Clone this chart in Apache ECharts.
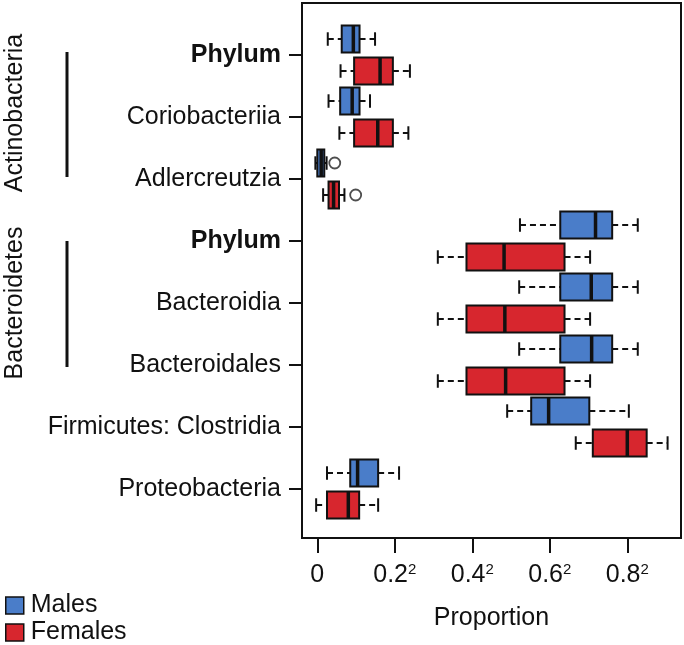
<!DOCTYPE html>
<html>
<head>
<meta charset="utf-8">
<script src="https://cdn.jsdelivr.net/npm/echarts@6/dist/echarts.min.js"></script>
<style>
  html, body { margin: 0; padding: 0; background: #fff; }
  #chart { width: 684px; height: 645px; }
</style>
</head>
<body>
<div id="chart"></div>
<script>
// rows, top to bottom
const categories = ['Phylum', 'Coriobacteriia', 'Adlercreutzia', 'Phylum', 'Bacteroidia', 'Bacteroidales', 'Firmicutes: Clostridia', 'Proteobacteria']
const boldRows = [0, 3]

// box stats on the sqrt scale: [low whisker, q1, median, q3, high whisker]
const maleStats = [
	[0.027, 0.063, 0.093, 0.109, 0.149],
	[0.029, 0.059, 0.090, 0.109, 0.136],
	[-0.005, 0.0, 0.010, 0.018, 0.024],
	[0.523, 0.627, 0.718, 0.761, 0.827],
	[0.521, 0.627, 0.707, 0.761, 0.827],
	[0.521, 0.627, 0.708, 0.761, 0.827],
	[0.490, 0.552, 0.597, 0.702, 0.804],
	[0.025, 0.085, 0.104, 0.157, 0.211]
]
const femaleStats = [
	[0.060, 0.095, 0.162, 0.195, 0.239],
	[0.057, 0.095, 0.156, 0.195, 0.235],
	[0.015, 0.029, 0.042, 0.056, 0.070],
	[0.311, 0.385, 0.482, 0.638, 0.704],
	[0.311, 0.385, 0.484, 0.638, 0.704],
	[0.311, 0.385, 0.486, 0.638, 0.704],
	[0.667, 0.711, 0.800, 0.850, 0.904],
	[-0.003, 0.025, 0.080, 0.108, 0.157]
]
// outliers: [row index, value]
const maleOutliers = [[2, 0.045]]
const femaleOutliers = [[2, 0.099]]

const xTicks = [0, 0.2, 0.4, 0.6, 0.8]

const BLUE = '#4A7DC9'
const RED = '#D7262E'
const INK = '#111'
const FONT = 'Liberation Sans, Arial, sans-serif'
const FS = 25
const OFFSET = 0.258
const BOX_H = 0.435

const rowPos = (i) => i + 1

function boxRenderer(off) {
	return (params, api) => {
		const y = api.value(0) + off
		const p = [1, 2, 3, 4, 5].map(d => api.coord([api.value(d), y]))
		const h = api.size([0, BOX_H])[1]
		const cy = p[0][1]
		const capH = h * 0.5
		const color = api.visual('color')
		const dash = { stroke: INK, lineWidth: 2, lineDash: [6, 4] }
		const solid = { stroke: INK, lineWidth: 2 }
		return {
			type: 'group',
			children: [
				{ type: 'line', shape: { x1: p[0][0], y1: cy, x2: p[1][0], y2: cy }, style: dash },
				{ type: 'line', shape: { x1: p[3][0], y1: cy, x2: p[4][0], y2: cy }, style: dash },
				{ type: 'line', shape: { x1: p[0][0], y1: cy - capH / 2, x2: p[0][0], y2: cy + capH / 2 }, style: solid },
				{ type: 'line', shape: { x1: p[4][0], y1: cy - capH / 2, x2: p[4][0], y2: cy + capH / 2 }, style: solid },
				{ type: 'rect', shape: { x: p[1][0], y: cy - h / 2, width: p[3][0] - p[1][0], height: h }, style: { fill: color, stroke: INK, lineWidth: 2 } },
				{ type: 'line', shape: { x1: p[2][0], y1: cy - h / 2, x2: p[2][0], y2: cy + h / 2 }, style: { stroke: INK, lineWidth: 3.5 } }
			]
		}
	}
}

const legendBase = {
	left: 5,
	padding: 0,
	itemWidth: 18,
	itemHeight: 17,
	itemStyle: { borderColor: INK, borderWidth: 1.5 },
	textStyle: { fontSize: FS, color: '#111', fontFamily: FONT, padding: [0, 0, 0, 2] }
}

const chart = echarts.init(document.getElementById('chart'))

chart.setOption({
	animation: false,
	color: [BLUE, RED],
	textStyle: { fontFamily: FONT },
	grid: {
		left: 302, right: 3, top: 3, bottom: 107,
		show: true, borderColor: INK, borderWidth: 2, backgroundColor: 'transparent'
	},
	legend: [
		{ ...legendBase, top: 593, data: [{ name: 'Males', icon: 'rect' }] },
		{ ...legendBase, top: 620, data: [{ name: 'Females', icon: 'rect' }] }
	],
	xAxis: {
		type: 'value',
		min: -0.0395,
		max: 0.9386,
		name: 'Proportion',
		nameLocation: 'middle',
		nameGap: 68,
		nameTextStyle: { fontSize: FS, color: '#111', fontFamily: FONT },
		axisLine: { show: true, onZero: false, lineStyle: { color: INK, width: 2 } },
		axisTick: { show: true, length: 15, customValues: xTicks, lineStyle: { color: INK, width: 2 } },
		axisLabel: {
			customValues: xTicks,
			margin: 24,
			color: '#111',
			formatter: v => v === 0 ? '{n|0}' : `{n|${v.toFixed(1)}}{s|2}`,
			rich: {
				n: { fontSize: FS, fontFamily: FONT, color: '#111', lineHeight: 26 },
				s: { fontSize: 15, fontFamily: FONT, color: '#111', verticalAlign: 'top', lineHeight: 26 }
			}
		},
		splitLine: { show: false }
	},
	yAxis: {
		type: 'value',
		inverse: true,
		min: 0.161,
		max: 8.79,
		axisLine: { show: true, onZero: false, lineStyle: { color: INK, width: 2 } },
		axisTick: { show: true, length: 13, customValues: categories.map((_, i) => rowPos(i)), lineStyle: { color: INK, width: 2 } },
		axisLabel: {
			customValues: categories.map((_, i) => rowPos(i)),
			margin: 21,
			formatter: (v) => {
				const i = Math.round(v) - 1
				return boldRows.includes(i) ? `{b|${categories[i]}}` : `{r|${categories[i]}}`
			},
			rich: {
				b: { fontSize: FS, fontWeight: 'bold', fontFamily: FONT, color: '#111' },
				r: { fontSize: FS, fontFamily: FONT, color: '#111' }
			}
		},
		splitLine: { show: false }
	},
	graphic: [
		{ type: 'text', x: 15, y: 113, rotation: Math.PI / 2, style: { text: 'Actinobacteria', fontSize: FS, fontFamily: FONT, fill: '#111', align: 'center', verticalAlign: 'middle' } },
		{ type: 'text', x: 15, y: 303, rotation: Math.PI / 2, style: { text: 'Bacteroidetes', fontSize: FS, fontFamily: FONT, fill: '#111', align: 'center', verticalAlign: 'middle' } },
		{ type: 'line', shape: { x1: 67, y1: 52, x2: 67, y2: 177 }, style: { stroke: INK, lineWidth: 3 } },
		{ type: 'line', shape: { x1: 67, y1: 241, x2: 67, y2: 367 }, style: { stroke: INK, lineWidth: 3 } }
	],
	series: [
		{
			name: 'Males',
			type: 'custom',
			itemStyle: { color: BLUE },
			encode: { x: [1, 2, 3, 4, 5], y: 0 },
			renderItem: boxRenderer(-OFFSET),
			data: maleStats.map((s, i) => [rowPos(i), ...s])
		},
		{
			name: 'Females',
			type: 'custom',
			itemStyle: { color: RED },
			encode: { x: [1, 2, 3, 4, 5], y: 0 },
			renderItem: boxRenderer(OFFSET),
			data: femaleStats.map((s, i) => [rowPos(i), ...s])
		},
		{
			name: 'outliers',
			type: 'scatter',
			symbol: 'circle',
			symbolSize: 11,
			itemStyle: { color: '#fff', borderColor: '#222', borderWidth: 1.8 },
			data: [
				...maleOutliers.map(([i, v]) => [v, rowPos(i) - OFFSET]),
				...femaleOutliers.map(([i, v]) => [v, rowPos(i) + OFFSET])
			]
		}
	]
})
</script>
</body>
</html>
